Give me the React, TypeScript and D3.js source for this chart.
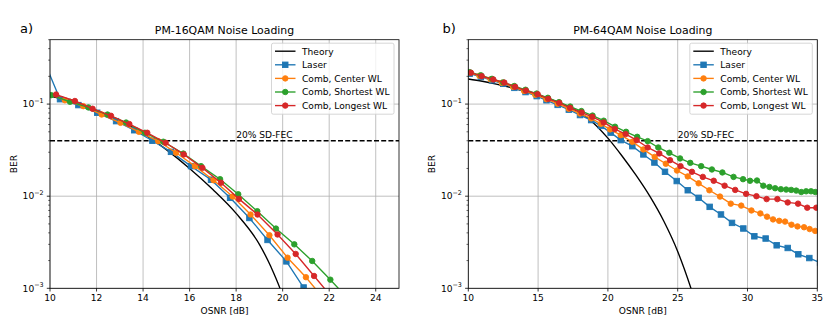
import * as d3 from "d3";

// ---- data ----
const fecLevel = 0.04;
const fecLabel = "20% SD-FEC";

const seriesNames = ["Theory", "Laser", "Comb, Center WL", "Comb, Shortest WL", "Comb, Longest WL"];
const seriesColors = ["#000000", "#1f77b4", "#ff7f0e", "#2ca02c", "#d62728"];
const seriesMarkers = ["none", "square", "circle", "circle", "circle"];

// PM-16QAM
const theory16Osnr = [10, 11, 12, 13, 14, 15, 16, 17, 18, 19, 19.5, 20, 20.5];
const theory16Ber = [0.122, 0.104, 0.085, 0.066, 0.048, 0.032, 0.02, 0.0118, 0.0065, 0.003, 0.0017, 0.00083, 0.0003];
const laser16Osnr = [9.6, 10.43, 11.22, 12.03, 12.84, 13.62, 14.4, 15.2, 16.06, 16.92, 17.74, 18.57, 19.35, 20.16, 20.9, 21.7];
const laser16Ber = [0.36, 0.113, 0.0975, 0.0805, 0.0653, 0.052, 0.04, 0.0303, 0.0212, 0.0151, 0.0096, 0.0058, 0.00335, 0.00196, 0.00102, 0.00052];
const center16Osnr = [9.84, 10.64, 11.43, 12.22, 13.03, 13.82, 14.65, 15.42, 16.23, 17.03, 17.85, 18.62, 19.43, 20.21, 21.0, 21.8];
const center16Ber = [0.135, 0.11, 0.095, 0.077, 0.0626, 0.05, 0.0396, 0.0296, 0.0212, 0.0149, 0.0099, 0.00632, 0.00377, 0.00215, 0.00132, 0.00075];
const shortest16Osnr = [10.05, 10.86, 11.65, 12.47, 13.27, 14.08, 14.87, 15.73, 16.49, 17.31, 18.09, 18.91, 19.71, 20.5, 21.27, 22.05, 22.85];
const shortest16Ber = [0.125, 0.106, 0.092, 0.077, 0.063, 0.0488, 0.039, 0.029, 0.0212, 0.0153, 0.0105, 0.00687, 0.00445, 0.003, 0.00198, 0.00124, 0.00075];
const longest16Osnr = [10.26, 11.07, 11.83, 12.62, 13.41, 14.18, 14.97, 15.75, 16.55, 17.35, 18.12, 18.92, 19.78, 20.56, 21.35, 22.15];
const longest16Ber = [0.127, 0.108, 0.089, 0.0746, 0.0607, 0.0488, 0.038, 0.0284, 0.0203, 0.014, 0.00935, 0.00632, 0.00384, 0.00236, 0.00136, 0.00078];

// PM-64QAM
const theory64Osnr = [10, 11, 12, 13, 14, 15, 16, 17, 18, 19, 20, 21, 22, 23, 24, 25, 26, 26.5];
const theory64Ber = [0.187, 0.177, 0.165, 0.152, 0.138, 0.125, 0.111, 0.096, 0.081, 0.0617, 0.0427, 0.0275, 0.017, 0.01, 0.00537, 0.00251, 0.00095, 0.00055];
const laser64Osnr = [10.1, 10.9, 11.7, 12.5, 13.3, 14.1, 14.9, 15.6, 16.4, 17.2, 18.0, 18.8, 19.5, 20.2, 20.92, 21.75, 22.54, 23.33, 24.09, 24.93, 25.72, 26.5, 27.29, 28.1, 28.89, 29.7, 30.49, 31.3, 32.09, 32.88, 33.64, 34.43, 35.2];
const laser64Ber = [0.214, 0.197, 0.181, 0.166, 0.15, 0.135, 0.122, 0.11, 0.098, 0.087, 0.076, 0.067, 0.058, 0.049, 0.0406, 0.0349, 0.0284, 0.0232, 0.0184, 0.0146, 0.0116, 0.0096, 0.00766, 0.00633, 0.00513, 0.00446, 0.00367, 0.00347, 0.00293, 0.00274, 0.00234, 0.00213, 0.0019];
const center64Osnr = [10.0, 10.8, 11.6, 12.4, 13.2, 14.0, 14.8, 15.6, 16.4, 17.2, 18.0, 18.8, 19.5, 20.15, 20.92, 21.75, 22.54, 23.35, 24.15, 24.95, 25.72, 26.5, 27.27, 28.03, 28.8, 29.55, 30.28, 30.92, 31.4, 31.83, 32.27, 32.69, 33.15, 33.58, 34.05, 34.45, 34.85];
const center64Ber = [0.22, 0.203, 0.186, 0.17, 0.154, 0.139, 0.126, 0.113, 0.101, 0.089, 0.079, 0.07, 0.061, 0.0531, 0.046, 0.0389, 0.0322, 0.0267, 0.0225, 0.019, 0.0164, 0.0138, 0.0116, 0.0099, 0.0083, 0.0079, 0.007, 0.0065, 0.006, 0.0056, 0.0054, 0.0053, 0.0049, 0.0047, 0.0046, 0.0044, 0.0042];
const shortest64Osnr = [10.1, 10.9, 11.7, 12.5, 13.3, 14.1, 14.9, 15.7, 16.5, 17.3, 18.1, 18.9, 19.7, 20.51, 21.3, 22.1, 22.85, 23.61, 24.4, 25.17, 25.9, 26.68, 27.45, 28.2, 29.0, 29.68, 30.18, 30.68, 31.13, 31.57, 31.98, 32.39, 32.77, 33.13, 33.49, 33.85, 34.2, 34.55, 34.86];
const shortest64Ber = [0.222, 0.205, 0.188, 0.172, 0.157, 0.143, 0.13, 0.117, 0.105, 0.094, 0.084, 0.075, 0.066, 0.0568, 0.05, 0.0441, 0.0396, 0.0338, 0.0296, 0.0257, 0.023, 0.0212, 0.0195, 0.0181, 0.0162, 0.0153, 0.0147, 0.0148, 0.013, 0.0126, 0.0122, 0.0119, 0.0118, 0.0117, 0.0115, 0.0111, 0.0113, 0.0113, 0.0111];
const longest64Osnr = [10.19, 10.96, 11.79, 12.58, 13.35, 14.13, 14.97, 15.73, 16.52, 17.29, 18.12, 18.88, 19.7, 20.5, 21.27, 22.06, 22.85, 23.68, 24.45, 25.2, 26.02, 26.8, 27.58, 28.36, 29.12, 29.9, 30.64, 31.37, 32.14, 32.88, 33.62, 34.28, 34.93];
const longest64Ber = [0.219, 0.201, 0.185, 0.171, 0.154, 0.14, 0.128, 0.114, 0.103, 0.091, 0.081, 0.0728, 0.0632, 0.0535, 0.0472, 0.0406, 0.0338, 0.0291, 0.0246, 0.0212, 0.0184, 0.0162, 0.0147, 0.013, 0.0117, 0.0106, 0.01, 0.0093, 0.0093, 0.00855, 0.0083, 0.0075, 0.0075];

const xTicks16 = [10, 12, 14, 16, 18, 20, 22, 24];
const xTicks64 = [10, 15, 20, 25, 30, 35];
const yMajorTicks = [1e-3, 1e-2, 1e-1];
const yTickExponents = ["−3", "−2", "−1"];

const FONT = "DejaVu Sans";
const TOP = 39.7;
const BOTTOM = 288.3;
const GRID = "#b0b0b0";

type Series = { osnr: number[]; ber: number[] };

const Marker = ({ kind, cx, cy, color }: { kind: string; cx: number; cy: number; color: string }) => {
  if (kind === "square")
    return <rect x={cx - 2.75} y={cy - 2.75} width={5.5} height={5.5} fill={color} stroke={color} strokeWidth={0.9} />;
  if (kind === "circle") return <circle cx={cx} cy={cy} r={2.75} fill={color} stroke={color} strokeWidth={0.9} />;
  return null;
};

const Panel = ({
  id,
  left,
  right,
  xDomain,
  xTicks,
  title,
  letter,
  letterX,
  fecX,
  series,
}: {
  id: string;
  left: number;
  right: number;
  xDomain: [number, number];
  xTicks: number[];
  title: string;
  letter: string;
  letterX: number;
  fecX: number;
  series: Series[];
}) => {
  const x = d3.scaleLinear().domain(xDomain).range([left, right]);
  const y = d3.scaleLog().domain([1e-3, 0.5]).range([BOTTOM, TOP]);
  const cx = (left + right) / 2;

  const minorTicks = y.ticks().filter((t) => !yMajorTicks.some((m) => Math.abs(m - t) / m < 1e-6) && t <= 0.5 + 1e-9);

  // Legend geometry
  const boxRight = right - 5;
  const boxLeft = boxRight - 122.5;
  const boxTop = TOP + 3.5;
  const rowY = (i: number) => boxTop + 8 + i * 13.6;

  return (
    <g>
      <defs>
        <clipPath id={`clip-${id}`}>
          <rect x={left} y={TOP} width={right - left} height={BOTTOM - TOP} />
        </clipPath>
      </defs>

      {/* grid */}
      {xTicks.map((t) => (
        <line key={`gx${t}`} x1={x(t)} x2={x(t)} y1={TOP} y2={BOTTOM} stroke={GRID} strokeWidth={0.8} />
      ))}
      {yMajorTicks.map((t) => (
        <line key={`gy${t}`} x1={left} x2={right} y1={y(t)} y2={y(t)} stroke={GRID} strokeWidth={0.8} />
      ))}

      <g clipPath={`url(#clip-${id})`}>
        {/* FEC threshold */}
        <line
          x1={left}
          x2={right}
          y1={y(fecLevel)}
          y2={y(fecLevel)}
          stroke="#000"
          strokeWidth={1.36}
          strokeDasharray="5,2.2"
        />
        {series.map((s, i) => {
          const pts = s.osnr.map((o, k) => [o, s.ber[k]] as [number, number]);
          const line = d3
            .line<[number, number]>()
            .x((d) => x(d[0]))
            .y((d) => y(d[1]));
          if (i === 0) line.curve(d3.curveMonotoneX);
          return (
            <g key={seriesNames[i]}>
              <path d={line(pts) ?? ""} fill="none" stroke={seriesColors[i]} strokeWidth={1.36} />
              {pts.map((p, k) => (
                <Marker key={k} kind={seriesMarkers[i]} cx={x(p[0])} cy={y(p[1])} color={seriesColors[i]} />
              ))}
            </g>
          );
        })}
      </g>

      <text x={x(fecX)} y={y(fecLevel) - 3} fontFamily={FONT} fontSize={9.1} fill="#000">
        {fecLabel}
      </text>

      {/* spines */}
      <rect x={left} y={TOP} width={right - left} height={BOTTOM - TOP} fill="none" stroke="#000" strokeWidth={0.8} />

      {/* x ticks */}
      {xTicks.map((t) => (
        <g key={`tx${t}`}>
          <line x1={x(t)} x2={x(t)} y1={BOTTOM} y2={BOTTOM + 3.2} stroke="#000" strokeWidth={0.8} />
          <text x={x(t)} y={300.8} textAnchor="middle" fontFamily={FONT} fontSize={9.1} fill="#000">
            {t}
          </text>
        </g>
      ))}
      <text x={cx} y={313.5} textAnchor="middle" fontFamily={FONT} fontSize={9.1} fill="#000">
        OSNR [dB]
      </text>

      {/* y ticks */}
      {yMajorTicks.map((t, i) => (
        <g key={`ty${t}`}>
          <line x1={left - 3.2} x2={left} y1={y(t)} y2={y(t)} stroke="#000" strokeWidth={0.8} />
          <text x={left - 6.4} y={y(t) + 3.3} textAnchor="end" fontFamily={FONT} fontSize={9.1} fill="#000">
            <tspan>10</tspan>
            <tspan dy={-4.2} fontSize={6.4}>
              {yTickExponents[i]}
            </tspan>
          </text>
        </g>
      ))}
      {minorTicks.map((t) => (
        <line key={`my${t}`} x1={left - 1.8} x2={left} y1={y(t)} y2={y(t)} stroke="#000" strokeWidth={0.6} />
      ))}
      <text
        transform={`translate(${left - 33.4},${(TOP + BOTTOM) / 2}) rotate(-90)`}
        textAnchor="middle"
        fontFamily={FONT}
        fontSize={9.1}
        fill="#000"
      >
        BER
      </text>

      {/* title and panel letter */}
      <text x={cx} y={33.5} textAnchor="middle" fontFamily={FONT} fontSize={10.9} fill="#000">
        {title}
      </text>
      <text x={letterX} y={32.6} fontFamily={FONT} fontSize={13} fill="#000">
        {letter}
      </text>

      {/* legend */}
      <rect
        x={boxLeft}
        y={boxTop}
        width={boxRight - boxLeft}
        height={71}
        rx={1.8}
        fill="#fff"
        fillOpacity={0.8}
        stroke="#cccccc"
        strokeWidth={0.8}
      />
      {seriesNames.map((name, i) => (
        <g key={`lg${name}`}>
          <line x1={boxLeft + 3.5} x2={boxLeft + 24} y1={rowY(i)} y2={rowY(i)} stroke={seriesColors[i]} strokeWidth={1.36} />
          <Marker kind={seriesMarkers[i]} cx={boxLeft + 13.75} cy={rowY(i)} color={seriesColors[i]} />
          <text x={boxLeft + 30.5} y={rowY(i) + 3.3} fontFamily={FONT} fontSize={9.1} fill="#000">
            {name}
          </text>
        </g>
      ))}
    </g>
  );
};

export default function App() {
  const series16: Series[] = [
    { osnr: theory16Osnr, ber: theory16Ber },
    { osnr: laser16Osnr, ber: laser16Ber },
    { osnr: center16Osnr, ber: center16Ber },
    { osnr: shortest16Osnr, ber: shortest16Ber },
    { osnr: longest16Osnr, ber: longest16Ber },
  ];
  const series64: Series[] = [
    { osnr: theory64Osnr, ber: theory64Ber },
    { osnr: laser64Osnr, ber: laser64Ber },
    { osnr: center64Osnr, ber: center64Ber },
    { osnr: shortest64Osnr, ber: shortest64Ber },
    { osnr: longest64Osnr, ber: longest64Ber },
  ];
  return (
    <svg
      width={830}
      height={330}
      viewBox="0 0 830 330"
      style={{ position: "absolute", left: 0, top: 0, background: "#fff" }}
    >
      <rect width={830} height={330} fill="#fff" />
      <Panel
        id="a"
        left={50}
        right={399}
        xDomain={[10, 25]}
        xTicks={xTicks16}
        title="PM-16QAM Noise Loading"
        letter="a)"
        letterX={20}
        fecX={18}
        series={series16}
      />
      <Panel
        id="b"
        left={468.3}
        right={817.3}
        xDomain={[10, 35]}
        xTicks={xTicks64}
        title="PM-64QAM Noise Loading"
        letter="b)"
        letterX={442.5}
        fecX={25}
        series={series64}
      />
    </svg>
  );
}
